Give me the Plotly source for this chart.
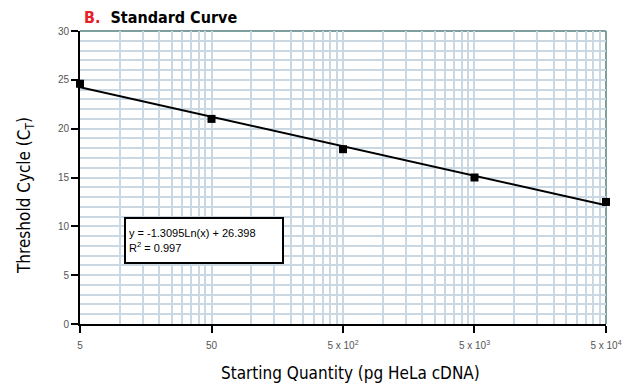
import numpy as np
import plotly.graph_objects as go

quantity = [5, 50, 500, 5000, 50000]
ct_values = [24.6, 21.0, 17.9, 15.0, 12.5]
x_tick_vals = [5, 50, 500, 5000, 50000]
x_tick_text = ["5", "50", "5 x 10<sup>2</sup>", "5 x 10<sup>3</sup>", "5 x 10<sup>4</sup>"]
equation_text = "y = -1.3095Ln(x) + 26.398<br>R<sup>2</sup> = 0.997"
x_title = "Starting Quantity (pg HeLa cDNA)"
y_title = "Threshold Cycle (C<sub>T</sub>)"

# trendline from a fit of the data in log space
lx = np.log10(quantity)
slope, intercept = np.polyfit(lx, ct_values, 1)
fit_x = [quantity[0], quantity[-1]]
fit_y = [slope * np.log10(v) + intercept for v in fit_x]

# minor gridlines at 5 x k x 10^n
minor_vals = [5 * k * 10 ** n for n in range(0, 4) for k in range(1, 11)]

fig = go.Figure()
fig.add_trace(go.Scatter(x=fit_x, y=fit_y, mode="lines",
                         line=dict(color="black", width=2),
                         showlegend=False, hoverinfo="skip", cliponaxis=False))
fig.add_trace(go.Scatter(x=quantity, y=ct_values, mode="markers",
                         marker=dict(symbol="square", size=8, color="black"),
                         showlegend=False, cliponaxis=False))

grid_col = "#c9d8e3"
eps = 1e-4
fig.update_xaxes(type="log", range=[np.log10(5) - eps, np.log10(50000) + eps],
                 tickvals=x_tick_vals, ticktext=x_tick_text, automargin=False,
                 ticks="outside", ticklen=7, tickwidth=2, tickcolor="black",
                 ticklabelstandoff=4,
                 showline=True, linecolor="black", linewidth=2,
                 showgrid=False, zeroline=False,
                 tickfont=dict(family="Liberation Sans", size=10, color="#555555"),
                 minor=dict(tickvals=minor_vals, showgrid=True, gridcolor=grid_col,
                            gridwidth=1.5, ticks=""))
fig.update_yaxes(range=[0, 30], tickvals=[0, 5, 10, 15, 20, 25, 30], automargin=False,
                 ticks="outside", ticklen=7, tickwidth=2, tickcolor="black",
                 showline=True, linecolor="black", linewidth=2,
                 showgrid=True, gridcolor=grid_col, gridwidth=1.5, zeroline=False,
                 tickfont=dict(family="Liberation Sans", size=10, color="#555555"),
                 minor=dict(dtick=1, showgrid=True, gridcolor=grid_col, gridwidth=1.5, ticks=""))

# top and right borders
fig.add_shape(type="line", xref="paper", yref="paper", x0=0, x1=1, y0=1, y1=1,
              line=dict(color="#7f9e9e", width=2), layer="below")
fig.add_shape(type="line", xref="paper", yref="paper", x0=1, x1=1, y0=0, y1=1,
              line=dict(color="#7f9e9e", width=2), layer="below")

PW, PH, L, T = 526, 293, 80, 31
def px(x):
    return (x - L) / PW
def py(y):
    return (T + PH - y) / PH

fig.add_annotation(xref="paper", yref="paper", x=px(124), y=py(217),
                   xanchor="left", yanchor="top", showarrow=False,
                   text=equation_text, align="left",
                   font=dict(family="Liberation Sans Narrow, Liberation Sans", size=11, color="black"),
                   bordercolor="black", borderwidth=2, borderpad=3, bgcolor="white",
                   width=150, height=37)
fig.add_annotation(xref="paper", yref="paper", x=px(350), y=py(373),
                   xanchor="center", yanchor="middle", showarrow=False,
                   text=x_title,
                   font=dict(family="DejaVu Sans Condensed", size=17, color="black"))
fig.add_annotation(xref="paper", yref="paper", x=px(26), y=py(196),
                   xanchor="center", yanchor="middle", showarrow=False, textangle=-90,
                   text=y_title,
                   font=dict(family="DejaVu Sans Condensed", size=17, color="black"))

fig.update_layout(
    width=633, height=386,
    margin=dict(l=80, r=27, t=31, b=62),
    paper_bgcolor="white", plot_bgcolor="white",
    title=dict(text="<b><span style='color:#e8202a'>B.</span>&nbsp;&nbsp;Standard Curve</b>",
               x=84 / 633, xanchor="left", y=1 - 17 / 386, yanchor="middle",
               font=dict(family="DejaVu Sans Condensed", size=16, color="black")),
)

fig.write_html("out.html", config={"displayModeBar": False},
               post_script="document.body.style.margin='0';document.body.style.padding='0';")
